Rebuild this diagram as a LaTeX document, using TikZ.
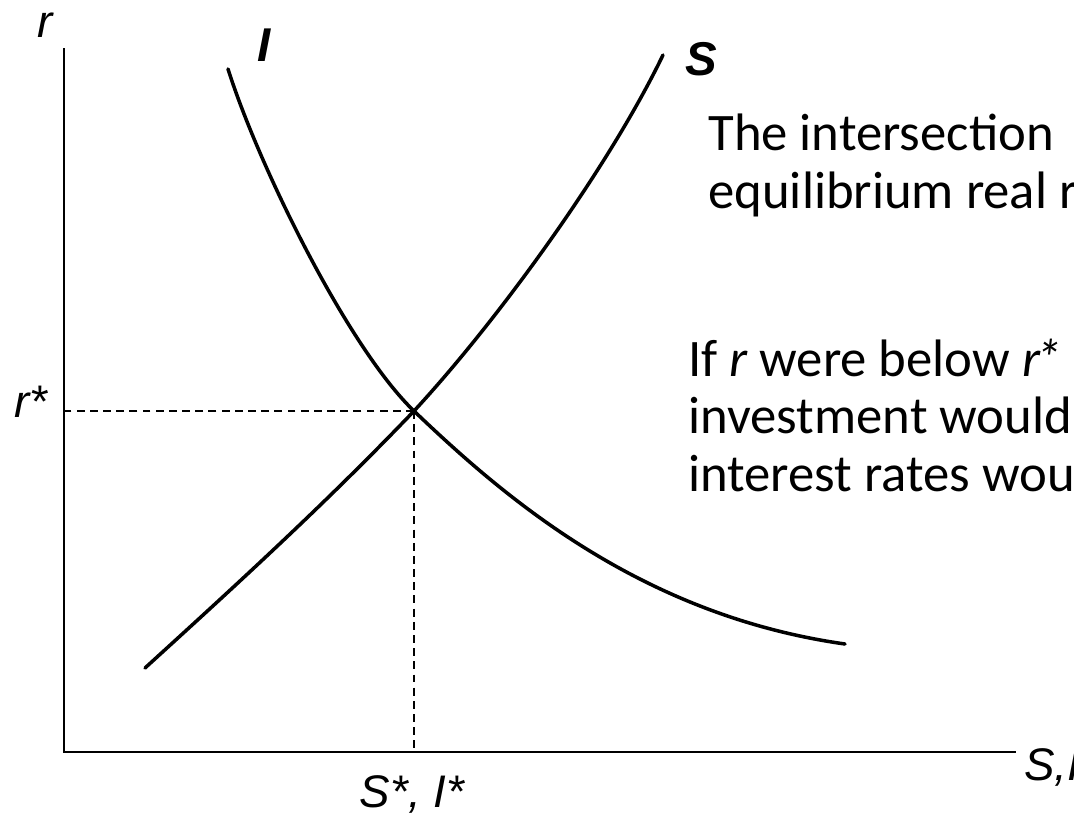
\documentclass[tikz,border=0pt]{standalone}
\usepackage{fontspec}
\setmainfont{Carlito}
\newfontfamily\axisfont{Liberation Sans}
\usetikzlibrary{positioning}

\begin{document}
\begin{tikzpicture}[
    x=0.02cm, y=-0.02cm,
    axis/.style={line width=1.2pt},
    curve/.style={line width=2pt,line cap=round},
    guide/.style={line width=0.8pt,dash pattern=on 4.5pt off 3pt},
    lbl/.style={inner sep=0pt,font=\axisfont\fontsize{26}{30}\selectfont\itshape},
    bold lbl/.style={lbl,font=\axisfont\fontsize{27}{30}\selectfont\bfseries\itshape},
    note/.style={inner sep=0pt,anchor=base west,font=\fontsize{30}{33}\selectfont}
]
\useasboundingbox (0,0) rectangle (1074,815);
\clip (0,0) rectangle (1074,815);

% axes
\coordinate (origin) at (64,752);
\coordinate (ytop) at (64,48);
\coordinate (xend) at (1016,752);
\draw[axis] (ytop) -- (origin) -- (xend);

% equilibrium point and guide lines
\coordinate (eq) at (414,411);
\draw[guide] (eq) -- (eq -| origin);
\draw[guide] (eq) -- (eq |- origin);

% saving and investment curves
\coordinate (s0) at (145,668);
\coordinate (s1) at (663,55);
\coordinate (i0) at (228,69);
\coordinate (i1) at (845,644);
\draw[curve] (s0) .. controls (235,586) and (324,505) .. (eq)
    .. controls (500,318) and (610,165) .. (s1);
\draw[curve] (i0) .. controls (260,170) and (350,350) .. (eq)
    .. controls (504,497) and (640,615) .. (i1);

% axis labels
\node[lbl,anchor=base] (rlab) at (45,37) {r};
\node[lbl,anchor=base] (rstar) at (31,417) {r*};
\node[lbl,anchor=base] (sistar) at (412,807) {S*, I*};
\node[lbl,anchor=base west] (silab) at (1024,780) {S,I};
\node[bold lbl,anchor=base] (ilab) at (264,61) {I};
\node[bold lbl,anchor=base] (slab) at (701,75) {S};

% explanation
\node[note] (t1) at (708,150) {The intersection};
\node[note] (t2) at (708,208) {equilibrium real r};
\node[note] (p1) at (688,376) {If {\itshape r} were below {\itshape r\kern-2.5pt*}};
\node[note] (p2) at (688,433) {investment would};
\node[note] (p3) at (688,491) {interest rates wou};

\end{tikzpicture}
\end{document}
